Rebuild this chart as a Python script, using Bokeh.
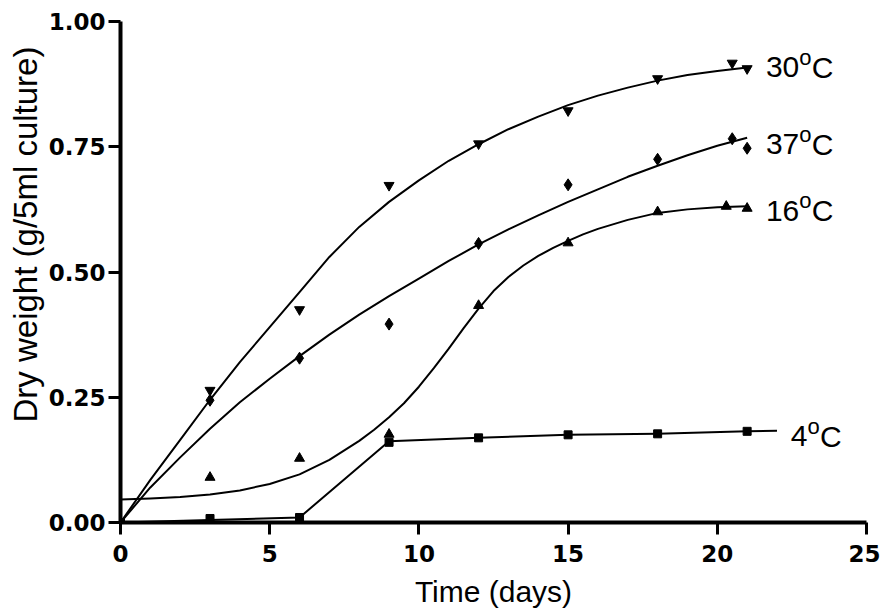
import numpy as np
from bokeh.plotting import figure
from bokeh.models import Title, FixedTicker, Range1d, NumeralTickFormatter
from bokeh.core.properties import value
from bokeh.embed import file_html
from bokeh.resources import INLINE

# ---- measured points (day, dry weight g/5ml culture) ----
t30_days = [3, 6, 9, 12, 15, 18, 20.5, 21]
t30_vals = [0.264, 0.425, 0.673, 0.756, 0.822, 0.886, 0.917, 0.906]
t37_days = [3, 6, 9, 12, 15, 18, 20.5, 21]
t37_vals = [0.244, 0.328, 0.396, 0.557, 0.674, 0.725, 0.766, 0.747]
t16_days = [3, 6, 9, 12, 15, 18, 20.3, 21]
t16_vals = [0.090, 0.128, 0.176, 0.433, 0.558, 0.620, 0.631, 0.627]
t4_days = [0, 3, 6, 9, 12, 15, 18, 21]
t4_vals = [0.0, 0.008, 0.010, 0.160, 0.169, 0.175, 0.177, 0.182]

# ---- fitted curves ----
fit_days = list(range(22))
fit30 = [0.0, 0.085, 0.165, 0.245, 0.32, 0.39, 0.46, 0.53, 0.59, 0.64, 0.683,
         0.722, 0.755, 0.785, 0.81, 0.833, 0.852, 0.868, 0.882, 0.893, 0.901, 0.908]
fit37 = [0.0, 0.07, 0.13, 0.187, 0.24, 0.287, 0.332, 0.375, 0.415, 0.452, 0.487,
         0.522, 0.555, 0.585, 0.613, 0.64, 0.665, 0.69, 0.712, 0.733, 0.752, 0.768]
fit16_days = [0, 1, 2, 3, 4, 5, 6, 7, 8, 8.5, 9, 9.5, 10, 10.5, 11, 11.5, 12, 12.5,
              13, 13.5, 14, 14.5, 15, 15.5, 16, 17, 18, 19, 20, 21]
fit16 = [0.046, 0.048, 0.051, 0.056, 0.064, 0.077, 0.096, 0.125, 0.163, 0.185, 0.21,
         0.238, 0.271, 0.308, 0.347, 0.388, 0.427, 0.462, 0.490, 0.513, 0.532, 0.548,
         0.562, 0.575, 0.586, 0.604, 0.618, 0.625, 0.629, 0.631]
line4_days = [0, 3, 6, 9, 12, 15, 18, 21, 22]
line4_vals = [0.0, 0.005, 0.010, 0.162, 0.169, 0.175, 0.177, 0.182, 0.183]

# ---- series labels ----
lab_num = ["30", "37", "16", "4"]
lab_x = [21.63, 21.63, 21.63, 22.46]
lab_y = [0.909, 0.755, 0.622, 0.172]

x_ticks = [0, 5, 10, 15, 20, 25]
y_ticks = [0, 0.25, 0.5, 0.75, 1.0]

FONT = "Liberation Sans"
TICKFONT = "DejaVu Sans"

p = figure(width=880, height=614, x_range=Range1d(0, 25), y_range=Range1d(0, 1),
           output_backend="svg", toolbar_location=None,
           min_border_left=120, min_border_right=14, min_border_top=21, min_border_bottom=92)
p.title.visible = False
p.outline_line_color = None
p.grid.visible = False
p.background_fill_color = "white"

p.xaxis.ticker = FixedTicker(ticks=x_ticks)
p.yaxis.ticker = FixedTicker(ticks=y_ticks)
p.yaxis.formatter = NumeralTickFormatter(format="0.00")
for ax in (p.xaxis, p.yaxis):
    ax.axis_line_width = 4
    ax.axis_line_color = "black"
    ax.major_tick_line_width = 3
    ax.major_tick_line_color = "black"
    ax.major_tick_out = 12
    ax.major_tick_in = 0
    ax.minor_tick_out = 0
    ax.minor_tick_in = 0
    ax.major_label_text_font = TICKFONT
    ax.major_label_text_font_style = "bold"
    ax.major_label_text_font_size = "23px"
    ax.major_label_text_color = "black"
p.yaxis.major_label_standoff = 3
p.xaxis.major_label_standoff = 10
p.xaxis.axis_label = "Time (days)"
p.xaxis.axis_label_text_font = FONT
p.xaxis.axis_label_text_font_style = "normal"
p.xaxis.axis_label_text_font_size = "30px"
p.xaxis.axis_label_text_color = "black"
p.xaxis.axis_label_standoff = 10

ytitle = Title(text="Dry weight (g/5ml culture)", align="left", offset=100,
               text_font=FONT, text_font_style="normal", text_font_size="33px",
               text_color="black", standoff=3)
p.add_layout(ytitle, "left")

# fitted curves / connecting line
for xs, ys in ((fit_days, fit30), (fit_days, fit37), (fit16_days, fit16), (line4_days, line4_vals)):
    p.line(xs, ys, line_color="black", line_width=2, line_join="round")

# markers
p.scatter(t30_days, t30_vals, marker="inverted_triangle", size=10, color="black")
p.scatter(t37_days, t37_vals, marker="diamond", size=12, color="black")
p.scatter(t16_days, t16_vals, marker="triangle", size=10, color="black")
p.scatter(t4_days, t4_vals, marker="square", size=8, color="black")

# labels like 30°C with a superscript o
num_w = [33.4, 33.4, 33.4, 16.7]
p.text(x=lab_x, y=lab_y, text=lab_num, text_font=value(FONT), text_font_size="30px",
       text_baseline="alphabetic", text_align="left", text_color="black")
p.text(x=lab_x, y=lab_y, text=["o"] * 4, text_font=value(FONT), text_font_size="22px",
       text_baseline="alphabetic", text_align="left", text_color="black",
       x_offset=num_w, y_offset=-10)
p.text(x=lab_x, y=lab_y, text=["C"] * 4, text_font=value(FONT), text_font_size="30px",
       text_baseline="alphabetic", text_align="left", text_color="black",
       x_offset=[w + 12.5 for w in num_w], y_offset=0)

open("out.html", "w").write(file_html(p, INLINE))
